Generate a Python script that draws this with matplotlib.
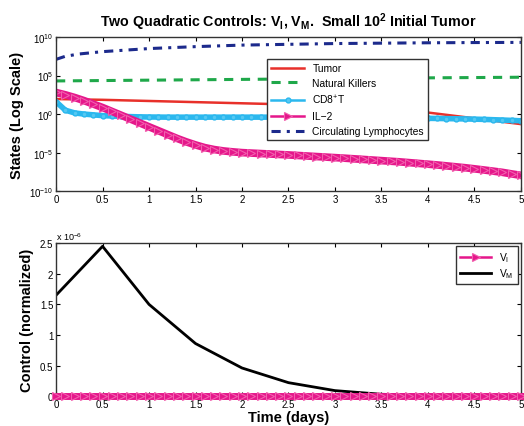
import numpy as np
import matplotlib.pyplot as plt
from matplotlib.ticker import FuncFormatter

plt.rcParams['font.family'] = ['Liberation Sans', 'DejaVu Sans']
plt.rcParams['mathtext.fontset'] = 'custom'
plt.rcParams['mathtext.rm'] = 'Liberation Sans'
plt.rcParams['mathtext.it'] = 'Liberation Sans:italic'
plt.rcParams['mathtext.bf'] = 'Liberation Sans:bold'

# Time grids
t_coarse = [0, 0.5, 1, 1.5, 2, 2.5, 3, 3.5, 4, 4.5, 5]
t_fine = np.round(np.arange(0, 5.01, 0.1), 1)
t_lymph = [0, 0.1, 0.25, 0.5, 1, 1.5, 2, 2.5, 3, 3.5, 4, 4.5, 5]
t_nk = [0, 1, 2, 3, 4, 5]
xtick_labels = ['0', '0.5', '1', '1.5', '2', '2.5', '3', '3.5', '4', '4.5', '5']

# States, as log10 values
tumor_log = [1.95, 1.85, 1.7, 1.55, 1.4, 1.25, 1.05, 0.75, 0.2, -0.55, -1.3]
nk_log = [4.3, 4.4, 4.5, 4.6, 4.7, 4.78]
lymph_log = [7.1, 7.5, 7.8, 8.1, 8.5, 8.75, 8.95, 9.05, 9.15, 9.2, 9.25, 9.28, 9.3]
cd8_log = [1.6, 0.5, 0.15, 0.0, -0.1, -0.2, -0.25, -0.3, -0.33, -0.36,
           -0.38, -0.39, -0.4, -0.4, -0.4, -0.4, -0.4, -0.4, -0.4, -0.4,
           -0.4, -0.4, -0.4, -0.4, -0.4, -0.41, -0.41, -0.42, -0.42, -0.43,
           -0.44, -0.45, -0.46, -0.47, -0.48, -0.49, -0.5, -0.51, -0.52, -0.54,
           -0.55, -0.57, -0.59, -0.61, -0.63, -0.66, -0.69, -0.73, -0.77, -0.82,
           -0.87]
il2_log = [2.8, 2.5, 2.15, 1.75, 1.3, 0.85, 0.35, -0.15, -0.65, -1.15,
           -1.65, -2.15, -2.65, -3.15, -3.6, -4.0, -4.35, -4.6, -4.78, -4.9,
           -5.0, -5.06, -5.12, -5.18, -5.24, -5.3, -5.37, -5.44, -5.51, -5.58,
           -5.65, -5.72, -5.8, -5.88, -5.96, -6.04, -6.12, -6.2, -6.3, -6.4,
           -6.5, -6.6, -6.72, -6.84, -6.96, -7.1, -7.25, -7.4, -7.56, -7.76,
           -7.95]

# Controls (x 1e-6)
vm_vals = [1.65, 2.45, 1.5, 0.86, 0.46, 0.22, 0.09, 0.03, 0.01, 0.0, 0.0]
vi_vals = [0.0] * len(t_fine)

pink = '#e5178b'
pink_light = '#f25fae'
cyan = '#2bb8ee'

fig = plt.figure(figsize=(5.24, 4.27), dpi=100)
ax1 = fig.add_axes([0.107, 0.550, 0.887, 0.361])
ax2 = fig.add_axes([0.107, 0.070, 0.887, 0.358])

ax1.plot(t_coarse, 10 ** np.array(tumor_log), color='#e8302a', lw=1.8, label='Tumor')
ax1.plot(t_nk, 10 ** np.array(nk_log), color='#1fa84a', lw=2.2, ls=(0, (3, 2.5)),
         label='Natural Killers')
ax1.plot(t_fine, 10 ** np.array(cd8_log), color=cyan, lw=4, marker='o', ms=3.5,
         mfc='#55c8f2', mec=cyan, label=r'CD8$^{+}$T')
ax1.plot(t_fine, 10 ** np.array(il2_log), color=pink, lw=5.5, marker='>', ms=5.5,
         mfc=pink, mec=pink_light, mew=0.8, label='IL\u22122')
ax1.plot(t_lymph, 10 ** np.array(lymph_log), color='#1c2a8c', lw=2.2, ls=(0, (3, 2, 1, 2)),
         label='Circulating Lymphocytes')
ax1.set_yscale('log')
ax1.set_ylim(1e-10, 1e10)
ax1.set_yticks([1e-10, 1e-5, 1e0, 1e5, 1e10])
ax1.minorticks_off()
ax1.set_xlim(0, 5)
ax1.set_title(r'Two Quadratic Controls: $\mathbf{V_I}$, $\mathbf{V_M}$.  Small $\mathbf{10^2}$ Initial Tumor',
              fontsize=10.3, fontweight='bold', pad=8)
ax1.set_ylabel('States (Log Scale)', fontsize=10.5, fontweight='bold', labelpad=4)
leg1 = ax1.legend(loc='upper left', bbox_to_anchor=(0.454, 0.857), fontsize=7.4,
                  fancybox=False, edgecolor='#333333', framealpha=1, handlelength=3.2,
                  borderaxespad=0, labelspacing=0.48, borderpad=0.4)
leg1.get_frame().set_linewidth(1.0)
for h in leg1.legend_handles[2:4]:
    h.set_linewidth(1.8)

ax2.plot(t_fine, vi_vals, color=pink, lw=5, marker='>', ms=5.5, mfc=pink,
         mec=pink_light, mew=0.8, clip_on=False, zorder=5, label=r'$\mathrm{V_I}$')
ax2.plot(t_coarse, np.array(vm_vals) * 1e-6, color='black', lw=2, label=r'$\mathrm{V_M}$')
ax2.set_xlim(0, 5)
ax2.set_ylim(0, 2.5e-6)
ax2.set_yticks(np.arange(0, 2.51e-6, 0.5e-6))
ax2.yaxis.set_major_formatter(FuncFormatter(lambda v, p: '%g' % round(v * 1e6, 3)))
ax2.text(0.0, 1.01, r'x 10$^{-6}$', transform=ax2.transAxes, fontsize=6.5, va='bottom')
ax2.set_xlabel('Time (days)', fontsize=10.5, fontweight='bold', labelpad=1)
ax2.set_ylabel('Control (normalized)', fontsize=10.5, fontweight='bold', labelpad=4)
leg2 = ax2.legend(loc='upper right', fontsize=7.4, fancybox=False, edgecolor='#333333',
                  framealpha=1, handlelength=3.0, borderaxespad=0.3, labelspacing=0.2)
leg2.get_frame().set_linewidth(1.0)
leg2.legend_handles[0].set_linewidth(1.8)

for ax in (ax1, ax2):
    ax.set_xticks(t_coarse)
    ax.set_xticklabels(xtick_labels)
    ax.tick_params(direction='in', top=True, right=True, labelsize=7, length=3, pad=2)
    for s in ax.spines.values():
        s.set_linewidth(1.0)
        s.set_color('#333333')

fig.savefig('out.png', dpi=100)
